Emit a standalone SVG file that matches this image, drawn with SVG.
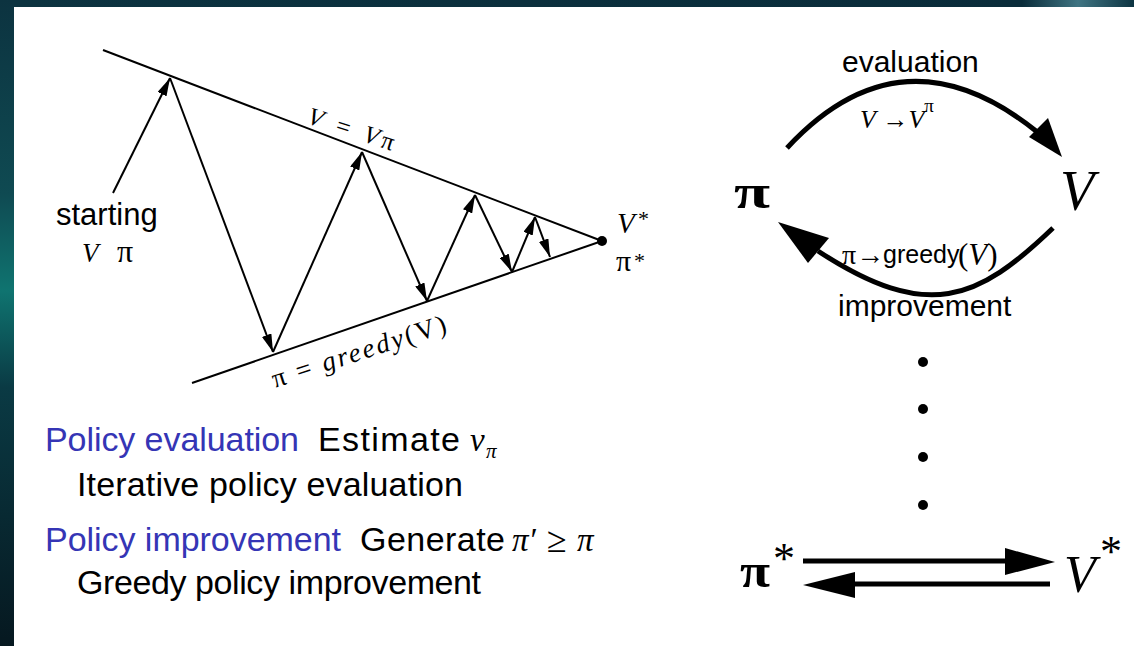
<svg xmlns="http://www.w3.org/2000/svg" width="1134" height="646" viewBox="0 0 1134 646">
<defs>
<linearGradient id="bandL" x1="0" y1="0" x2="0" y2="1">
<stop offset="0" stop-color="#0c3340"/>
<stop offset="0.3" stop-color="#0f4a52"/>
<stop offset="0.45" stop-color="#0f7470"/>
<stop offset="0.6" stop-color="#0a3a44"/>
<stop offset="1" stop-color="#061820"/>
</linearGradient>
<linearGradient id="bandT" x1="0" y1="0" x2="1" y2="0">
<stop offset="0" stop-color="#0c3340"/>
<stop offset="0.9" stop-color="#0a2c3a"/>
<stop offset="0.95" stop-color="#3f7482"/>
<stop offset="1" stop-color="#0d3442"/>
</linearGradient>
<marker id="ah" viewBox="0 0 18 10" refX="18" refY="5" markerWidth="18" markerHeight="10" markerUnits="userSpaceOnUse" orient="auto">
<path d="M0,0 L18,5 L0,10 Z" fill="#000"/>
</marker>
<style>
.thin{stroke:#000;stroke-width:2;fill:none}
.thick{stroke:#000;stroke-width:5;fill:none}
.sans{font-family:"Liberation Sans",Arial,sans-serif;fill:#000}
.serif{font-family:"Liberation Serif","Times New Roman",serif;fill:#000}
.it{font-style:italic}
.blue{fill:#3535b5}
</style>
</defs>

<g id="background">
<rect x="0" y="0" width="1134" height="646" fill="url(#bandL)"/>
<rect x="14" y="0" width="1120" height="7" fill="url(#bandT)"/>
<rect x="14" y="7" width="1120" height="639" fill="#fff"/>
</g>

<g id="left-diagram">
<g id="value-line">
<line class="thin" x1="103" y1="50" x2="602" y2="241"/>
<text class="serif it" font-size="25" transform="translate(306,123) rotate(18)" textLength="90">V = V<tspan font-style="normal">π</tspan></text>
</g>
<g id="greedy-line">
<line class="thin" x1="192" y1="383" x2="602" y2="241"/>
<text class="serif" font-size="27" transform="translate(275,388) rotate(-18)" textLength="182">π = <tspan font-style="italic">greedy</tspan>(V)</text>
</g>
<g id="optimum">
<circle cx="602" cy="241" r="5" fill="#000"/>
<text class="serif it" x="617" y="233" font-size="29">V</text>
<text class="serif" x="638" y="226" font-size="22">*</text>
<text class="serif" x="616" y="271" font-size="30">π</text>
<text class="serif" x="634" y="268" font-size="22">*</text>
</g>
<g id="start">
<text class="sans" x="56" y="225" font-size="31">starting</text>
<text class="serif it" x="82" y="262" font-size="27">V</text>
<text class="serif" x="117" y="262" font-size="32">π</text>
</g>
</g>

<g id="connectors">
<line class="thin" x1="113" y1="193" x2="170" y2="78" marker-end="url(#ah)"/>
<line class="thin" x1="170" y1="78" x2="273" y2="352" marker-end="url(#ah)"/>
<line class="thin" x1="273" y1="352" x2="362" y2="152" marker-end="url(#ah)"/>
<line class="thin" x1="362" y1="152" x2="427" y2="301" marker-end="url(#ah)"/>
<line class="thin" x1="427" y1="301" x2="475" y2="195" marker-end="url(#ah)"/>
<line class="thin" x1="475" y1="195" x2="512" y2="272" marker-end="url(#ah)"/>
<line class="thin" x1="512" y1="272" x2="535" y2="217" marker-end="url(#ah)"/>
<line class="thin" x1="535" y1="217" x2="550" y2="257" marker-end="url(#ah)"/>

<path class="thick" d="M787,148 Q902,24 1036,131"/>
<polygon points="1062,157 1029,137 1048,118" fill="#000"/>
<path class="thick" d="M1053,228 C978,300 928,323 818,251"/>
<polygon points="778,222 808,263 829,238" fill="#000"/>

<line class="thick" x1="803" y1="561" x2="1010" y2="561"/>
<polygon points="1055,562 1005,548 1005,575" fill="#000"/>
<line class="thick" x1="1050" y1="584" x2="850" y2="584"/>
<polygon points="803,585 855,572 855,598" fill="#000"/>
</g>

<g id="node-pi">
<text class="serif" x="734" y="208" font-size="48" font-weight="bold" textLength="36" lengthAdjust="spacingAndGlyphs">π</text>
</g>
<g id="node-V">
<text class="serif it" x="1060" y="210" font-size="56">V</text>
</g>
<g id="label-evaluation">
<text class="sans" x="842" y="72" font-size="30">evaluation</text>
<text class="serif" x="860" y="128" font-size="26"><tspan font-style="italic">V</tspan> →<tspan font-style="italic">V</tspan><tspan dy="-16" font-size="19">π</tspan></text>
</g>
<g id="label-improvement">
<text class="serif" x="842" y="264" font-size="28">π→</text>
<text class="sans" x="883" y="263" font-size="25">greedy</text>
<text class="serif" x="958" y="265" font-size="31">(<tspan font-style="italic">V</tspan>)</text>
<text class="sans" x="838" y="316" font-size="30">improvement</text>
</g>
<g id="dots">
<circle cx="923" cy="362" r="5" fill="#000"/>
<circle cx="923" cy="409" r="5" fill="#000"/>
<circle cx="923" cy="457" r="5" fill="#000"/>
<circle cx="923" cy="505" r="5" fill="#000"/>
</g>
<g id="node-pi-star">
<text class="serif" x="740" y="587" font-size="48" font-weight="bold" textLength="30" lengthAdjust="spacingAndGlyphs">π</text>
<text class="serif" x="773" y="573" font-size="44">*</text>
</g>
<g id="node-V-star">
<text class="serif it" x="1064" y="592" font-size="52">V</text>
<text class="serif" x="1100" y="566" font-size="44">*</text>
</g>

<g id="text-block">
<text class="sans blue" x="45" y="451" font-size="34" textLength="254">Policy evaluation</text>
<text class="sans" x="318" y="451" font-size="34" textLength="142">Estimate</text>
<text class="serif it" x="470" y="451" font-size="33">v</text>
<text class="serif it" x="486" y="458" font-size="21">π</text>
<text class="sans" x="77" y="496" font-size="34" textLength="386">Iterative policy evaluation</text>
<text class="sans blue" x="45" y="551" font-size="34" textLength="296">Policy improvement</text>
<text class="sans" x="360" y="551" font-size="34" textLength="145">Generate</text>
<text class="serif it" x="512" y="551" font-size="33">π′</text>
<text class="serif" x="547" y="552" font-size="36">≥</text>
<text class="serif it" x="577" y="551" font-size="33">π</text>
<text class="sans" x="77" y="594" font-size="34" textLength="404">Greedy policy improvement</text>
</g>
</svg>
